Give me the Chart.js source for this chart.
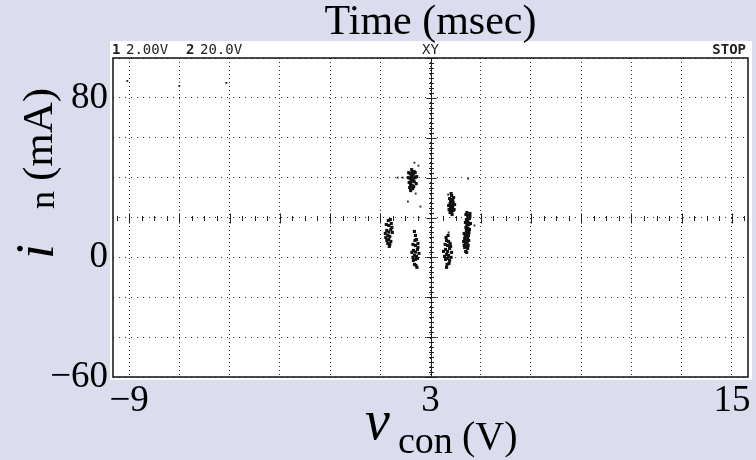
<!DOCTYPE html>
<html>
<head>
<meta charset="utf-8">
<script src="https://cdn.jsdelivr.net/npm/chart.js@4/dist/chart.umd.min.js"></script>
<style>
  html, body { margin: 0; padding: 0; background: #dcdcef; }
  #wrap { width: 756px; height: 460px; }
</style>
</head>
<body>
<div id="wrap"><canvas id="scope"></canvas></div>
<script>
// axis ranges and grid (volts / mA)
const xRange = [-9.64, 15.64];
const yRange = [-60, 100];
const xGrid = [-9, -7, -5, -3, -1, 1, 3, 5, 7, 9, 11, 13, 15];
const yGrid = [-60, -40, -20, 0, 20, 40, 60, 80, 100];
const xLabels = { "-9": "\u22129", "3": "3", "15": "15" };
const yLabels = { "80": "80", "0": "0", "-60": "\u221260" };
const center = [3, 20]; // XY crosshair of the scope screen

const clusterA = [[2.27,38.8],[2.19,39.5],[2.35,38],[2.23,41],[2.31,41.5],[2.15,37.5],[2.39,40],[2.27,36],[2.21,36.5],[2.33,35.5],[2.27,42.5],[2.19,42],[2.35,43],[2.11,40],[2.43,37],[2.23,38],[2.31,39],[2.27,40.5],[2.17,35],[2.39,42.5],[2.29,34.5],[2.13,42.5],[2.45,40.5],[2.25,44],[2.21,33.5]];
const clusterB = [[3.84,26],[3.78,27],[3.90,27.5],[3.80,24.5],[3.88,25],[3.84,29],[3.76,29.5],[3.92,30],[3.84,23],[3.78,22.5],[3.90,23.5],[3.72,26],[3.96,26.5],[3.84,31],[3.80,28],[3.88,28.5],[3.86,21.5],[3.74,24],[3.94,24],[3.82,32]];
const clusterC = [[4.49,17.7],[4.43,19],[4.55,19.5],[4.45,16],[4.53,16.5],[4.49,21],[4.41,21.5],[4.57,22],[4.49,14.5],[4.43,13.5],[4.55,14],[4.39,17.5],[4.59,17],[4.47,12],[4.51,11],[4.45,22.5],[4.53,12.5],[4.41,15],[4.57,20.5],[4.49,20]];
const clusterD = [[4.42,8.5],[4.36,9.5],[4.48,10],[4.38,7],[4.46,7.5],[4.42,11.5],[4.34,12],[4.50,12.5],[4.42,5.5],[4.36,5],[4.48,4.5],[4.32,8],[4.52,8.5],[4.40,3],[4.44,2.5],[4.38,11],[4.46,13],[4.34,6],[4.50,6]];
const clusterE = [[3.68,3],[3.60,4],[3.76,4.5],[3.64,1.5],[3.72,1],[3.68,6],[3.58,6.5],[3.78,7],[3.68,-0.5],[3.60,-1],[3.76,-1.5],[3.52,3],[3.84,2.5],[3.64,8.5],[3.72,8],[3.66,-3.5],[3.74,-3],[3.56,0.5],[3.80,5.5],[3.62,10],[3.70,11],[3.64,-5],[3.82,0]];
const clusterF = [[2.40,2.7],[2.32,3.5],[2.48,4],[2.36,1],[2.44,0.5],[2.40,6],[2.30,6.5],[2.50,7],[2.40,-1],[2.32,-1.5],[2.48,-0.5],[2.26,2.5],[2.54,2],[2.38,8.5],[2.44,9],[2.36,-3.5],[2.42,-4],[2.30,0],[2.50,5],[2.40,11],[2.36,13],[2.46,-5]];
const clusterG = [[1.34,12.7],[1.26,13.5],[1.42,14],[1.30,11],[1.38,10.5],[1.34,16],[1.24,16.5],[1.44,17],[1.34,9],[1.26,8.5],[1.42,8],[1.20,12],[1.48,12.5],[1.32,18.5],[1.38,6.5],[1.30,7],[1.46,15],[1.22,10],[1.40,19],[1.36,5.5]];
const strays = [[2.36,47.5],[2.52,46],[1.69,40],[1.89,40],[2.41,32],[2.6,25.5],[3.72,12.5],[4.5,39.5],[3.7,31.5],[2.1,28],[4.75,16],[-9.07,88.5],[-7.0,86],[-5.13,87.5]];

const toXY = p => ({ x: p[0], y: p[1] });
const blobPoints = [].concat(clusterA, clusterB, clusterC, clusterD, clusterE, clusterF, clusterG).map(toXY);
const strayPoints = strays.map(toXY);

const serif = "'Liberation Serif', 'Times New Roman', serif";

// lavender page, white scope panel, header, frame, crosshair, titles
const scopePlugin = {
  id: "scope",
  beforeDraw(chart) {
    const { ctx, chartArea: a } = chart;
    ctx.save();
    ctx.fillStyle = "#dcdcef";
    ctx.fillRect(0, 0, chart.width, chart.height);
    ctx.fillStyle = "#fff";
    ctx.fillRect(a.left - 3, 41, a.right - a.left + 7, a.bottom - 41 + 3);
    ctx.restore();
  },
  afterDraw(chart) {
    const { ctx, chartArea: a, scales: { x, y } } = chart;
    ctx.save();

    // frame
    ctx.strokeStyle = "#111";
    ctx.lineWidth = 1.5;
    ctx.strokeRect(a.left, a.top, a.right - a.left, a.bottom - a.top);

    // crosshair tick marks
    const cx = Math.round(x.getPixelForValue(center[0])) + 0.5;
    const cy = Math.round(y.getPixelForValue(center[1])) + 0.5;
    ctx.strokeStyle = "#222";
    ctx.lineWidth = 1;
    ctx.beginPath();
    for (let v = xGrid[0] - 0.5; v <= xRange[1]; v += 0.5) {
      const px = Math.round(x.getPixelForValue(v)) + 0.5;
      if (px < a.left || px > a.right) continue;
      const major = Math.abs((v - xGrid[0]) % 2) < 1e-6;
      const h = major ? 5 : 2.5;
      ctx.moveTo(px, cy - h);
      ctx.lineTo(px, cy + h);
    }
    for (let v = yRange[0]; v <= yRange[1]; v += 2.5) {
      const py = Math.round(y.getPixelForValue(v)) + 0.5;
      const major = Math.abs(v % 20) < 1e-6;
      const w = major ? 5 : 2.5;
      ctx.moveTo(cx - w, py);
      ctx.lineTo(cx + w, py);
    }
    ctx.moveTo(cx, a.top);
    ctx.lineTo(cx, a.bottom);
    ctx.stroke();

    // scope header
    ctx.fillStyle = "#222";
    ctx.textBaseline = "alphabetic";
    ctx.font = "bold 14px 'DejaVu Sans Mono', monospace";
    ctx.textAlign = "left";
    ctx.fillText("1", 112, 54);
    ctx.fillText("2", 186, 54);
    ctx.textAlign = "right";
    ctx.fillText("STOP", 746, 54);
    ctx.font = "14px 'DejaVu Sans Mono', monospace";
    ctx.textAlign = "left";
    ctx.fillText("2.00V", 126, 54);
    ctx.fillText("20.0V", 200, 54);
    ctx.textAlign = "center";
    ctx.fillText("XY", x.getPixelForValue(center[0]), 54);

    // titles
    ctx.fillStyle = "#000";
    ctx.textAlign = "center";
    ctx.font = "42px " + serif;
    ctx.fillText("Time (msec)", x.getPixelForValue(center[0]), 34);

    ctx.textAlign = "left";
    ctx.font = "italic 56px " + serif;
    ctx.fillText("v", 365, 439);
    ctx.font = "38px " + serif;
    ctx.fillText("con", 398, 453);
    ctx.font = "40px " + serif;
    ctx.fillText("(V)", 462, 449);

    ctx.translate(53, 263);
    ctx.rotate(-Math.PI / 2);
    ctx.font = "italic 54px " + serif;
    ctx.fillText("i", 4, 0);
    ctx.font = "36px " + serif;
    ctx.fillText("n", 54, 1);
    ctx.font = "43px " + serif;
    ctx.fillText("(mA)", 82, -1);
    ctx.restore();
  }
};

new Chart(document.getElementById("scope"), {
  type: "scatter",
  data: {
    datasets: [{
      data: blobPoints,
      backgroundColor: "#111",
      borderWidth: 0,
      pointStyle: "rect",
      pointRadius: 2.2
    }, {
      data: strayPoints,
      backgroundColor: "#222",
      borderWidth: 0,
      pointStyle: "rect",
      pointRadius: 1.3
    }]
  },
  options: {
    responsive: true,
    maintainAspectRatio: false,
    animation: false,
    layout: { padding: { left: 0, right: 8, top: 58, bottom: 0 } },
    plugins: { legend: { display: false }, tooltip: { enabled: false } },
    scales: {
      x: {
        type: "linear",
        min: xRange[0],
        max: xRange[1],
        afterBuildTicks: s => { s.ticks = xGrid.map(v => ({ value: v })); },
        afterFit: s => { s.height = 83; },
        ticks: {
          autoSkip: false,
          maxRotation: 0,
          padding: 2,
          color: "#000",
          font: { family: serif, size: 37 },
          callback: v => xLabels[String(v)] || ""
        },
        grid: { color: "#333", lineWidth: 1, drawTicks: false },
        border: { display: false, dash: [1, 3] }
      },
      y: {
        type: "linear",
        min: yRange[0],
        max: yRange[1],
        afterBuildTicks: s => { s.ticks = yGrid.map(v => ({ value: v })); },
        afterFit: s => { s.width = 113; },
        ticks: {
          autoSkip: false,
          padding: 5,
          color: "#000",
          font: { family: serif, size: 37 },
          callback: v => yLabels[String(v)] || ""
        },
        grid: { color: "#333", lineWidth: 1, drawTicks: false },
        border: { display: false, dash: [1, 5] }
      }
    }
  },
  plugins: [scopePlugin]
});
</script>
</body>
</html>
